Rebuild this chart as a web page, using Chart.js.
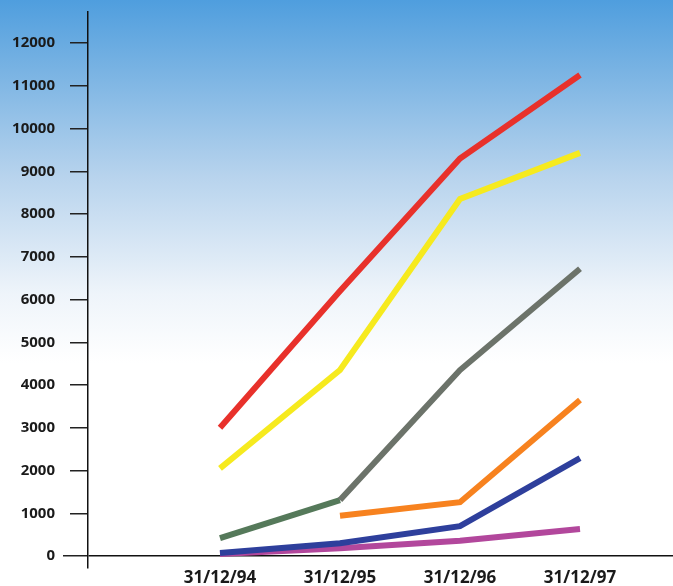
<!DOCTYPE html>
<html>
<head>
<meta charset="utf-8">
<script src="https://cdn.jsdelivr.net/npm/chart.js@4"></script>
<style>
  html, body { margin: 0; padding: 0; background: #fff; }
  #wrap { width: 673px; height: 586px; position: relative; }
</style>
</head>
<body>
<div id="wrap"><canvas id="chart"></canvas></div>
<script>
// dates on the x axis
const dates = ['31/12/94', '31/12/95', '31/12/96', '31/12/97'];
const yTicks = [0, 1000, 2000, 3000, 4000, 5000, 6000, 7000, 8000, 9000, 10000, 11000, 12000];

// one list per line, null where a series has no value yet
const redVals    = [3000, 6200, 9300, 11250];
const yellowVals = [2050, 4350, 8350, 9430];
const greyVals   = [420, 1310, 4350, 6720];
const orangeVals = [null, 940, 1260, 3650];
const blueVals   = [70, 300, 700, 2290];
const purpleVals = [50, 180, 360, 630];

const toPoints = vals => vals.map((v, i) => (v === null ? null : { x: i, y: v })).filter(p => p);

function serie(vals, color, extra) {
  return Object.assign({
    data: toPoints(vals),
    borderColor: color,
    borderWidth: 6,
    pointRadius: 0,
    borderCapStyle: 'butt',
    borderJoinStyle: 'miter',
    tension: 0,
  }, extra || {});
}

// keep the plot area fixed, ignore label overflow padding
function noOverflow(s) {
  s.paddingTop = 0;
  s.paddingBottom = 0;
  s.paddingLeft = 0;
  s.paddingRight = 0;
}

// sky gradient behind everything
const skyBg = {
  id: 'skyBg',
  beforeDraw(chart) {
    const { ctx, width, height } = chart;
    const g = ctx.createLinearGradient(0, 0, 0, height);
    g.addColorStop(0, '#4f9ede');
    g.addColorStop(0.12, '#79b3e3');
    g.addColorStop(0.3, '#b7d3ed');
    g.addColorStop(0.5, '#eef4fa');
    g.addColorStop(0.62, '#ffffff');
    g.addColorStop(1, '#ffffff');
    ctx.save();
    ctx.fillStyle = g;
    ctx.fillRect(0, 0, width, height);
    ctx.restore();
  }
};

new Chart(document.getElementById('chart'), {
  type: 'line',
  data: {
    datasets: [
      serie(redVals, '#e8312b'),
      serie(yellowVals, '#f6ea1e'),
      serie(greyVals, '#6c736a', {
        segment: { borderColor: ctx => (ctx.p0DataIndex === 0 ? '#55795a' : '#6c736a') }
      }),
      serie(orangeVals, '#f7821f'),
      serie(blueVals, '#2e3f9c'),
      serie(purpleVals, '#b2479c'),
    ]
  },
  options: {
    responsive: true,
    maintainAspectRatio: false,
    animation: false,
    layout: { padding: { top: 12, right: 0, bottom: 0, left: 0 } },
    plugins: { legend: { display: false }, tooltip: { enabled: false } },
    scales: {
      x: {
        type: 'linear',
        min: -1.1,
        max: 3.775,
        afterBuildTicks: s => { s.ticks = dates.map((d, i) => ({ value: i })); },
        afterFit: s => { s.height = 18; noOverflow(s); },
        grid: { display: false, drawTicks: false, tickLength: 0 },
        border: { display: false },
        ticks: {
          padding: 0,
          color: '#1a1a1a',
          font: { family: 'Open Sans', size: 17, weight: 700 },
          callback: v => dates[v],
        },
      },
      y: {
        min: -280,
        max: 12725,
        afterBuildTicks: s => { s.ticks = yTicks.map(v => ({ value: v })); },
        afterFit: s => { s.width = 88; noOverflow(s); },
        border: { display: true, color: '#111', width: 1.5 },
        grid: {
          drawOnChartArea: true,
          color: c => (c.tick && c.tick.value === 0 ? '#111' : 'rgba(0,0,0,0)'),
          lineWidth: 1.5,
          tickColor: '#222',
          tickLength: 25,
          tickWidth: 1.5,
          tickBorderDash: c => (c.tick && c.tick.value === 0 ? [] : [0, 7, 18, 100]),
        },
        ticks: {
          padding: 8,
          color: '#1a1a1a',
          font: { family: 'Open Sans', size: 15, weight: 700 },
          callback: v => String(v),
        },
      },
    },
  },
  plugins: [skyBg],
});
</script>
</body>
</html>
